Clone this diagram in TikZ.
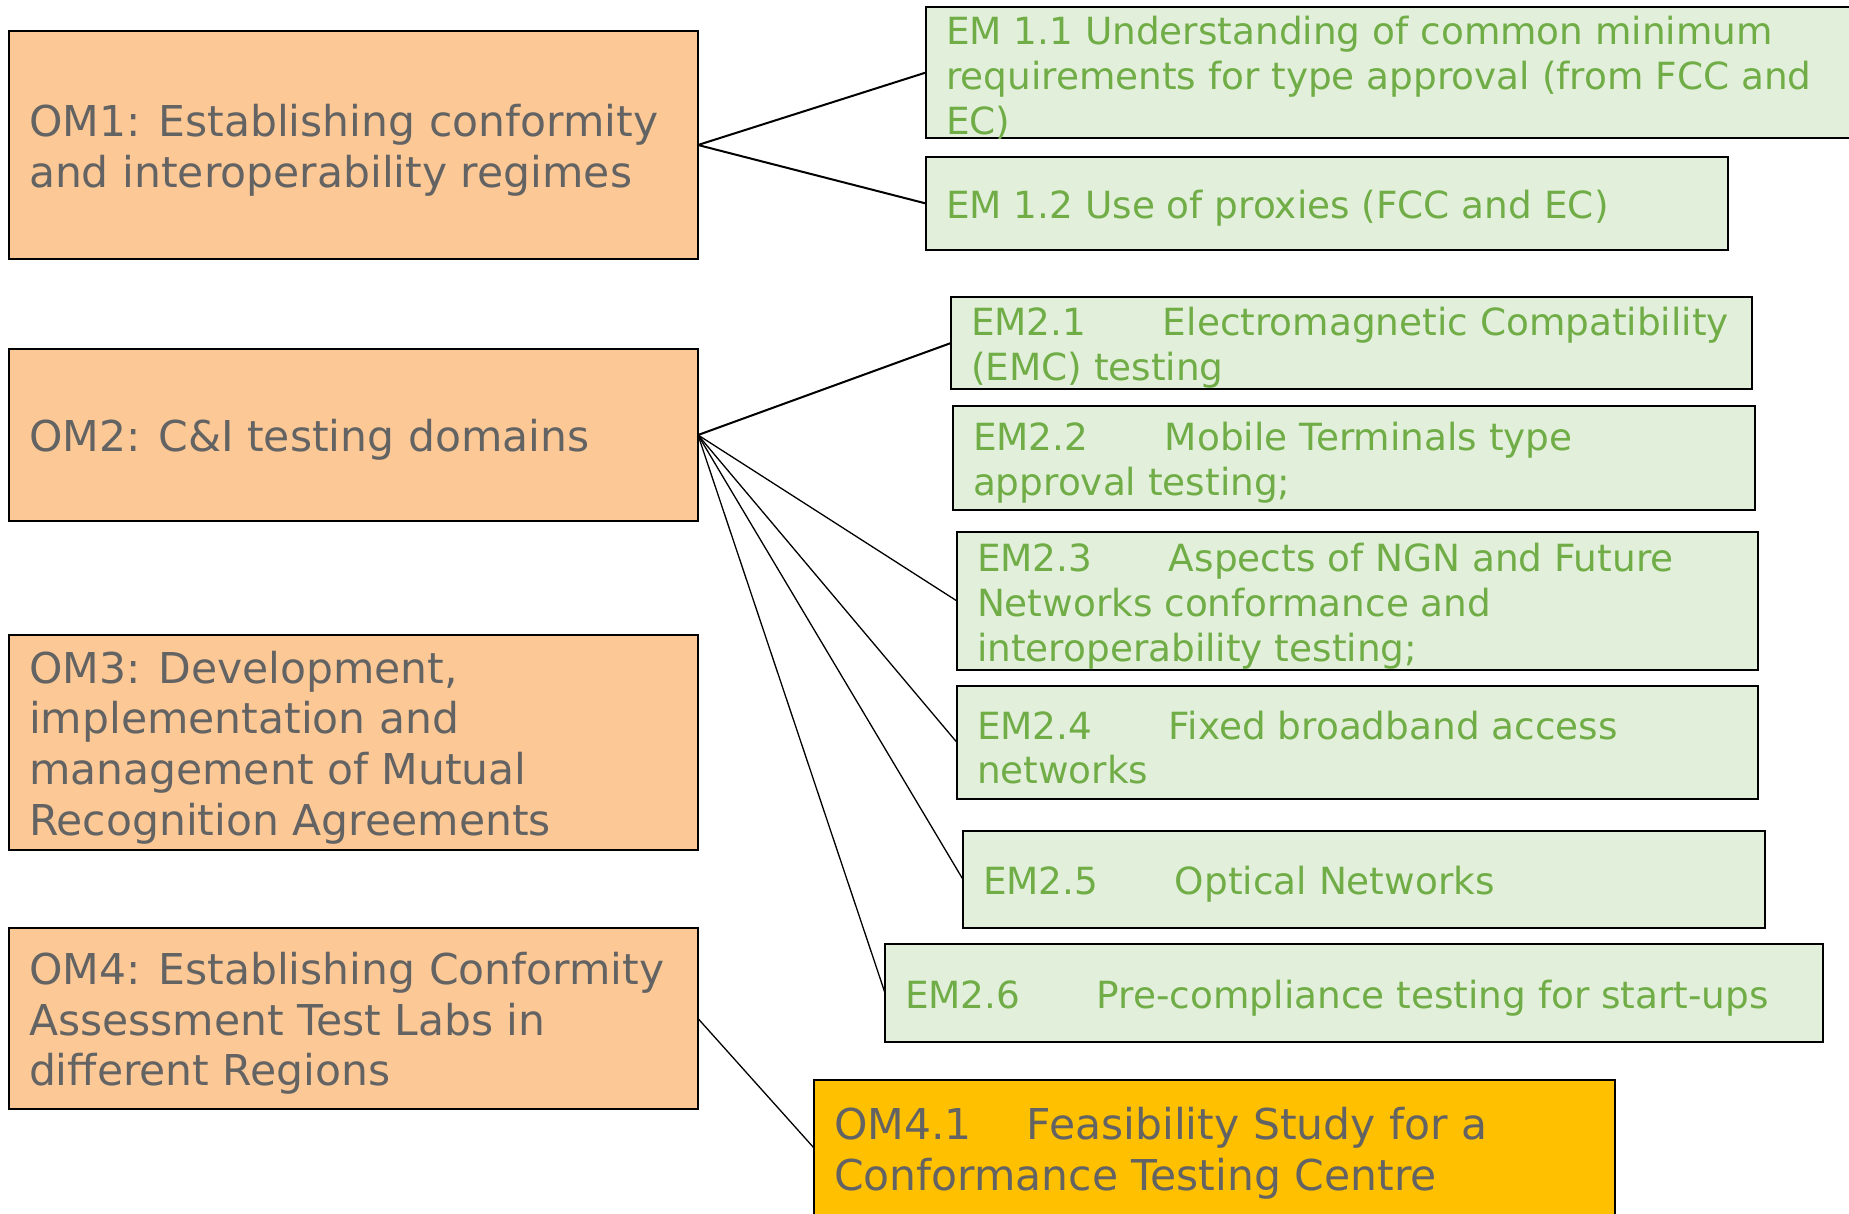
\documentclass[tikz,border=0pt]{standalone}
\usepackage{fontspec}
\setmainfont{DejaVu Sans}
\definecolor{omfill}{RGB}{252,201,150}
\definecolor{emfill}{RGB}{226,239,218}
\definecolor{emtext}{RGB}{112,173,71}
\definecolor{graytext}{RGB}{99,99,99}
\definecolor{goldfill}{RGB}{255,192,0}
\newcommand\boxtext[3]{\parbox[c][#2pt][c]{#1pt}{\raggedright\vspace*{10pt}#3}}
\newcommand\tabbed[2]{\makebox[#1pt][l]{#2}}
\tikzset{
  basebox/.style={draw=black, line width=2pt, inner xsep=20pt, inner ysep=0pt, outer sep=0pt, anchor=north west},
  ombox/.style={basebox, fill=omfill, text=graytext, font=\fontsize{42.5}{50.7}\selectfont},
  embox/.style={basebox, fill=emfill, text=emtext, font=\fontsize{37.4}{44.8}\selectfont},
  goldbox/.style={ombox, fill=goldfill},
  linkline/.style={draw=black, line width=1.3pt},
  boldlink/.style={draw=black, line width=2pt}
}
\begin{document}
\begin{tikzpicture}[x=1pt,y=-1pt]
\useasboundingbox (0,0) rectangle (1849,1214);
% OM boxes
\node[ombox, minimum width=689pt, minimum height=228pt] (om1) at (9,31)
  {\boxtext{649}{228}{\mbox{OM1: Establishing conformity}\\\mbox{and interoperability regimes}}};
\node[ombox, minimum width=689pt, minimum height=172pt] (om2) at (9,349)
  {\boxtext{649}{172}{\mbox{OM2: C\&I testing domains}}};
\node[ombox, minimum width=689pt, minimum height=215pt] (om3) at (9,635)
  {\boxtext{649}{215}{\mbox{OM3: Development,}\\\mbox{implementation and}\\\mbox{management of Mutual}\\\mbox{Recognition Agreements}}};
\node[ombox, minimum width=689pt, minimum height=181pt] (om4) at (9,928)
  {\boxtext{649}{181}{\mbox{OM4: Establishing Conformity}\\\mbox{Assessment Test Labs in}\\\mbox{different Regions}}};
\node[goldbox, minimum width=801pt, minimum height=136pt] (om41) at (814,1080)
  {\boxtext{761}{136}{\mbox{\tabbed{193}{OM4.1}Feasibility Study for a}\\\mbox{Conformance Testing Centre}}};
% EM boxes
\node[embox, minimum width=944pt, minimum height=131pt] (em11) at (926,7)
  {\boxtext{904}{131}{\mbox{EM 1.1 Understanding of common minimum}\\\mbox{requirements for type approval (from FCC and}\\\mbox{EC)}}};
\node[embox, minimum width=802pt, minimum height=93pt] (em12) at (926,157)
  {\boxtext{762}{93}{\mbox{EM 1.2 Use of proxies (FCC and EC)}}};
\node[embox, minimum width=801pt, minimum height=92pt] (em21) at (951,297)
  {\boxtext{761}{92}{\mbox{\tabbed{192}{EM2.1}Electromagnetic Compatibility}\\\mbox{(EMC) testing}}};
\node[embox, minimum width=802pt, minimum height=104pt] (em22) at (953,406)
  {\boxtext{762}{104}{\mbox{\tabbed{192}{EM2.2}Mobile Terminals type}\\\mbox{approval testing;}}};
\node[embox, minimum width=801pt, minimum height=138pt] (em23) at (957,532)
  {\boxtext{761}{138}{\mbox{\tabbed{192}{EM2.3}Aspects of NGN and Future}\\\mbox{Networks conformance and}\\\mbox{interoperability testing;}}};
\node[embox, minimum width=801pt, minimum height=113pt] (em24) at (957,686)
  {\boxtext{761}{113}{\mbox{\tabbed{192}{EM2.4}Fixed broadband access}\\\mbox{networks}}};
\node[embox, minimum width=802pt, minimum height=97pt] (em25) at (963,831)
  {\boxtext{762}{97}{\mbox{\tabbed{192}{EM2.5}Optical Networks}}};
\node[embox, minimum width=938pt, minimum height=98pt] (em26) at (885,944)
  {\boxtext{898}{98}{\mbox{\tabbed{192}{EM2.6}Pre-compliance testing for start-ups}}};
% connectors
\draw[boldlink] (om1.east) -- (em11.west);
\draw[boldlink] (om1.east) -- (em12.west);
\draw[boldlink] (om2.east) -- (em21.west);
\draw[linkline] (om2.east) -- (em23.west);
\draw[linkline] (om2.east) -- (em24.west);
\draw[linkline] (om2.east) -- (em25.west);
\draw[linkline] (om2.east) -- (em26.west);
\draw[linkline] (om4.east) -- (om41.west);
\end{tikzpicture}
\end{document}
